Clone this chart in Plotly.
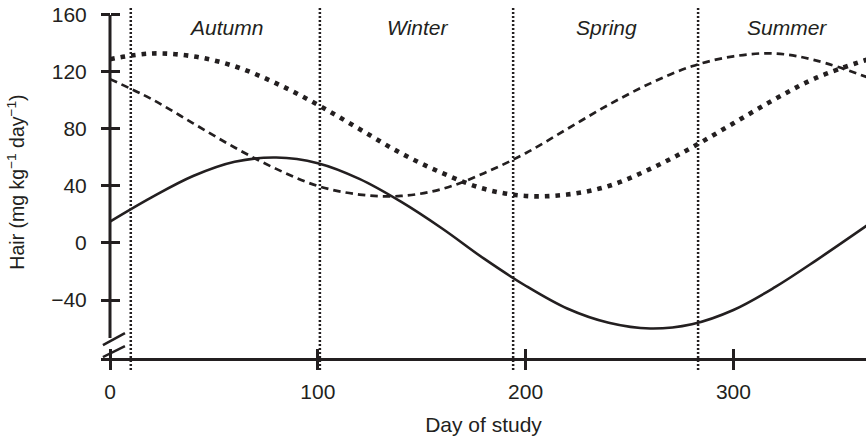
import plotly.graph_objects as go

# ---- data ----
days = [0, 20, 40, 60, 80, 100, 120, 140, 160, 180, 200, 220, 240, 260, 280, 300, 320, 340, 365]
solid_vals = [15, 32, 47, 57, 60, 56, 45, 29, 10, -11, -30, -46, -56, -60, -57, -47, -31, -12, 13]
dashed_vals = [115, 101, 84, 67, 52, 40, 34, 33, 38, 49, 63, 80, 97, 112, 124, 131, 133, 128, 116]
dotted_vals = [129, 133, 131, 124, 112, 97, 80, 63, 49, 38, 33, 34, 40, 52, 67, 84, 101, 116, 129]

season_names = ["Autumn", "Winter", "Spring", "Summer"]
season_label_days = [56, 148, 239, 326]
season_bounds = [10, 101, 194, 283]

x_ticks = [0, 100, 200, 300]
y_ticks = [-40, 0, 40, 80, 120, 160]

INK = "#231f20"
FONT = "Liberation Sans, Arial, sans-serif"
FS = 21

x_range = [-4.33, 363.8]
y_range = [-80.7, 166.3]
y_pos = (0 - x_range[0]) / (x_range[1] - x_range[0])

fig = go.Figure()
fig.add_trace(go.Scatter(x=days, y=solid_vals, mode="lines",
                         line=dict(color=INK, width=2.6, shape="spline"),
                         showlegend=False, hoverinfo="skip"))
fig.add_trace(go.Scatter(x=days, y=dashed_vals, mode="lines",
                         line=dict(color=INK, width=2.7, shape="spline", dash="7.5px,5px"),
                         showlegend=False, hoverinfo="skip"))
fig.add_trace(go.Scatter(x=days, y=dotted_vals, mode="lines",
                         line=dict(color=INK, width=4.6, shape="spline", dash="4.6px,6px"),
                         showlegend=False, hoverinfo="skip"))
# empty trace to carry the overlaid (inside-tick) axes
fig.add_trace(go.Scatter(x=[None], y=[None], xaxis="x2", yaxis="y2",
                         showlegend=False, hoverinfo="skip"))

# season boundaries
for b in season_bounds:
    fig.add_shape(type="line", xref="x", yref="paper", x0=b, x1=b, y0=-0.034, y1=0.997,
                  line=dict(color=INK, width=2.5, dash="2px,2px"))

# y axis line with break
fig.add_shape(type="line", xref="x", yref="y", x0=0, x1=0, y0=-66.7, y1=160,
              line=dict(color=INK, width=3))
fig.add_shape(type="line", xref="x", yref="y", x0=-3.4, x1=7.2, y0=-71.6, y1=-63.2,
              line=dict(color=INK, width=2.5))
fig.add_shape(type="line", xref="x", yref="y", x0=-3.4, x1=7.2, y0=-80.0, y1=-72.3,
              line=dict(color=INK, width=2.5))

for name, d in zip(season_names, season_label_days):
    fig.add_annotation(x=d, y=151.5, xref="x", yref="y", text="<i>%s</i>" % name,
                       showarrow=False, font=dict(family=FONT, size=FS, color=INK))

tickfont = dict(family=FONT, size=FS, color=INK)

fig.update_layout(
    width=866, height=440, autosize=False,
    margin=dict(l=101, r=0, t=6, b=82),
    paper_bgcolor="white", plot_bgcolor="white",
    font=dict(family=FONT, size=FS, color=INK),
    xaxis=dict(range=x_range, tickvals=x_ticks, ticks="outside", ticklen=9, tickwidth=3,
               tickcolor=INK, showline=True, linecolor=INK, linewidth=3, automargin=False,
               showgrid=False, zeroline=False, tickfont=tickfont, ticklabelstandoff=4,
               title=dict(text="Day of study", font=tickfont, standoff=16)),
    yaxis=dict(range=y_range, tickvals=y_ticks, ticks="outside", ticklen=9, tickwidth=3,
               tickcolor=INK, showline=False, anchor="free", position=y_pos, automargin=False,
               showgrid=False, zeroline=False, tickfont=tickfont, ticklabelstandoff=10,
               title=dict(text="Hair (mg kg<sup>−1</sup> day<sup>−1</sup>)",
                          font=dict(family=FONT, size=19.5, color=INK), standoff=20)),
    xaxis2=dict(range=x_range, tickvals=x_ticks, ticks="inside", ticklen=9, tickwidth=3,
                tickcolor=INK, overlaying="x", anchor="y2", showticklabels=False,
                showgrid=False, zeroline=False, showline=False, automargin=False),
    yaxis2=dict(range=y_range, tickvals=y_ticks, ticks="inside", ticklen=9, tickwidth=3,
                tickcolor=INK, overlaying="y", anchor="free", position=y_pos, automargin=False,
                showticklabels=False, showgrid=False, zeroline=False, showline=False),
)

fig.write_html("out.html", config={"displayModeBar": False},
               post_script="document.body.style.margin='0px';")
